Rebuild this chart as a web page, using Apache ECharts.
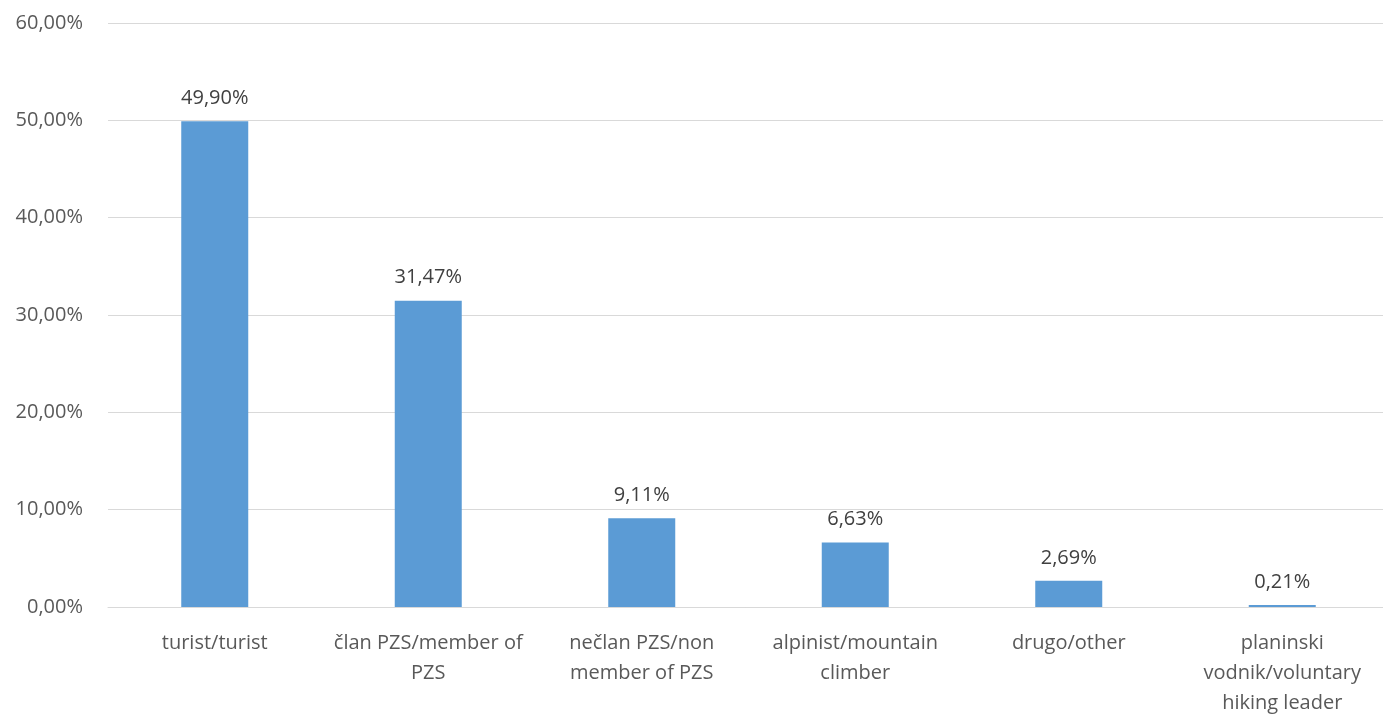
<!DOCTYPE html>
<html>
<head>
<meta charset="utf-8">
<script src="https://cdn.jsdelivr.net/npm/echarts@6/dist/echarts.min.js"></script>
<style>html,body{margin:0;padding:0;background:#fff}#c{width:1383px;height:716px}</style>
</head>
<body>
<div id="c"></div>
<script>
var categories = ["turist/turist", "član PZS/member of\nPZS", "nečlan PZS/non\nmember of PZS", "alpinist/mountain\nclimber", "drugo/other", "planinski\nvodnik/voluntary\nhiking leader"];
var values = [49.90, 31.47, 9.11, 6.63, 2.69, 0.21];
var yTicks = [0, 10, 20, 30, 40, 50, 60];

function pct(v) { return v.toFixed(2).replace('.', ',') + '%'; }

var chart = echarts.init(document.getElementById('c'));
var font = '"Open Sans", "Noto Sans", sans-serif';
chart.setOption({
  animation: false,
  grid: { left: 108, right: -6, top: 23, bottom: 109, containLabel: false, outerBoundsMode: 'none' },
  xAxis: {
    type: 'category',
    data: categories,
    axisLine: { show: true, lineStyle: { color: '#D9D9D9', width: 1 } },
    axisTick: { show: false },
    axisLabel: { color: '#595959', fontFamily: font, fontSize: 20, lineHeight: 30, margin: 21, interval: 0 }
  },
  yAxis: {
    type: 'value',
    min: yTicks[0], max: yTicks[yTicks.length - 1], interval: 10,
    axisLine: { show: false },
    axisTick: { show: false },
    splitLine: { lineStyle: { color: '#D9D9D9', width: 1 } },
    axisLabel: { color: '#595959', fontFamily: font, fontSize: 20, margin: 25, formatter: function (v) { return pct(v); } }
  },
  series: [{
    type: 'bar',
    data: values,
    barWidth: 67,
    itemStyle: { color: '#5B9BD5' },
    label: { show: true, position: 'top', distance: 13, color: '#404040', fontFamily: font, fontSize: 20, formatter: function (p) { return pct(p.value); } }
  }]
});
</script>
</body>
</html>
